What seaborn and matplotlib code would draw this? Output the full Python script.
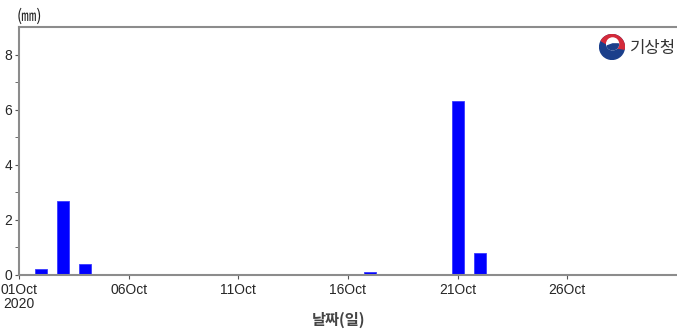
import matplotlib
matplotlib.use("Agg")
import matplotlib.pyplot as plt
import seaborn as sns
import pandas as pd
from matplotlib.patches import Wedge, Circle

# daily precipitation, October 2020
days = [2, 3, 4, 17, 21, 22]
rain_mm = [0.2, 2.7, 0.4, 0.1, 6.3, 0.8]
tick_days = [1, 6, 11, 16, 21, 26]
tick_labels = ["01Oct\n2020", "06Oct", "11Oct", "16Oct", "21Oct", "26Oct"]

sns.set_style("white")
plt.rcParams['font.family'] = ['Liberation Sans', 'Noto Sans CJK KR', 'DejaVu Sans']

df = pd.DataFrame({"day": days, "rain": rain_mm})

fig = plt.figure(figsize=(6.77, 3.31), dpi=100)
ax = fig.add_axes([19 / 677, 1 - 275 / 331, 1 - 19 / 677, (275 - 27) / 331])
sns.barplot(data=df, x="day", y="rain", native_scale=True, width=0.55,
            color="#0000ff", saturation=1, edgecolor="#3a3aff", linewidth=0.6, ax=ax)

ax.set_xlim(1, 31)
ax.set_ylim(0, 9)
ax.set_xticks(tick_days)
ax.set_xticklabels(tick_labels, fontsize=10, linespacing=1.0)
ax.set_yticks([0, 2, 4, 6, 8])
ax.set_yticks([1, 3, 5, 7], minor=True)
ax.tick_params(axis="y", labelsize=10, length=3, color="#555555", pad=2, which="both", left=True)
ax.tick_params(axis="x", length=3, color="#555555", pad=3, bottom=True)
ax.set_xlabel("")
ax.set_ylabel("")

for side in ["left", "bottom", "top"]:
    ax.spines[side].set_color("#8c8c8c")
    ax.spines[side].set_linewidth(1.5)
ax.spines["right"].set_visible(False)

fig.text(0.5, 1 - 320 / 331, "날짜(일)", ha="center", va="center", fontsize=11,
         fontweight="bold", color="#444444", family=["Noto Sans CJK KR"])
fig.text(17 / 677, 1 - 16 / 331, "(㎜)", ha="left", va="center", fontsize=11,
         color="#222222", family=["Noto Sans CJK KR", "DejaVu Sans"])

# logo
lx, ly, r = 612, 331 - 47, 12
logo = fig.add_axes([(lx - r - 1) / 677, (ly - r - 1) / 331, (2 * r + 2) / 677, (2 * r + 2) / 331])
logo.set_xlim(-1.05, 1.05)
logo.set_ylim(-1.05, 1.05)
logo.set_aspect("equal")
logo.axis("off")
logo.add_patch(Circle((0, 0), 1, color="#1b3f8b"))
logo.add_patch(Wedge((0, 0), 1, -10, 150, color="#d42a3a"))
logo.add_patch(Circle((0.05, 0.25), 0.48, color="white"))
logo.add_patch(Wedge((0.05, 0.25), 0.48, 200, 360, color="#1b3f8b"))
fig.text(630 / 677, 1 - 48 / 331, "기상청", ha="left", va="center", fontsize=12,
         color="#333333", family=["Noto Sans CJK KR"])

fig.savefig("out.png", dpi=100)
